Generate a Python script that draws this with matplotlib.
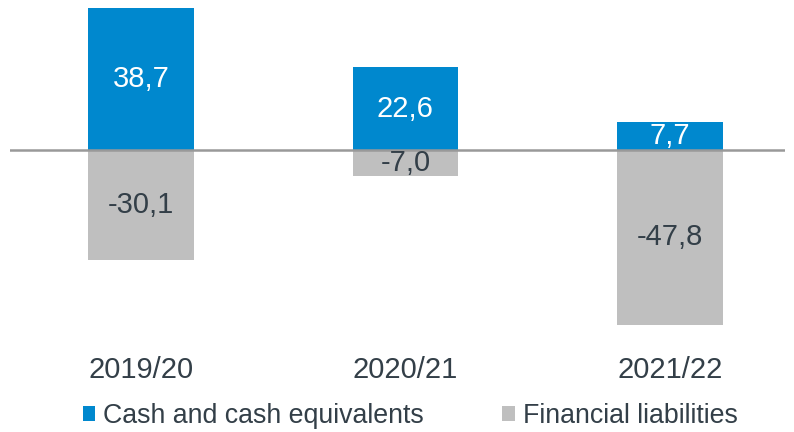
import matplotlib
matplotlib.use("Agg")
import matplotlib.pyplot as plt
import matplotlib.transforms as mtransforms

plt.rcParams['font.family'] = ['Liberation Sans', 'DejaVu Sans']

categories = ["2019/20", "2020/21", "2021/22"]
cash = [38.7, 22.6, 7.7]
liabilities = [-30.1, -7.0, -47.8]
cash_labels = ["38,7", "22,6", "7,7"]
liab_labels = ["-30,1", "-7,0", "-47,8"]
series_names = ["Cash and cash equivalents", "Financial liabilities"]

BLUE = "#0088CE"
GRAY = "#BFBFBF"
TEXT = "#333F48"

W, H = 794, 432
fig = plt.figure(figsize=(W / 100, H / 100), dpi=100)
ax = fig.add_axes([10 / W, 1 - 330 / H, 775 / W, 325 / H])
ax.set_xlim(-0.495, 2.435)
ax.set_ylim(-49.2, 39.6)
ax.axis('off')

x = list(range(len(categories)))
b1 = ax.bar(x, cash, width=0.4, color=BLUE, zorder=2)
b2 = ax.bar(x, liabilities, width=0.4, color=GRAY, zorder=2)
ax.axhline(0, color="#999999", lw=1.8, zorder=3)

for i in x:
    ax.text(i, cash[i] / 2, cash_labels[i], ha='center', va='center',
            color='white', fontsize=21, zorder=4)
    ax.text(i, liabilities[i] / 2, liab_labels[i], ha='center', va='center',
            color=TEXT, fontsize=21, zorder=4)

trans = mtransforms.blended_transform_factory(ax.transData, fig.transFigure)
for i, c in enumerate(categories):
    ax.text(i, 1 - 370 / H, c, transform=trans, ha='center', va='center',
            color=TEXT, fontsize=21, clip_on=False)

leg = fig.legend([b1, b2], series_names, loc='center',
                 bbox_to_anchor=(410 / W, 1 - 416 / H), ncol=2, frameon=False,
                 fontsize=19.3, handlelength=0.45, handleheight=0.45,
                 handletextpad=0.3, columnspacing=2.95, labelcolor=TEXT)

fig.savefig("out.png", dpi=100)
